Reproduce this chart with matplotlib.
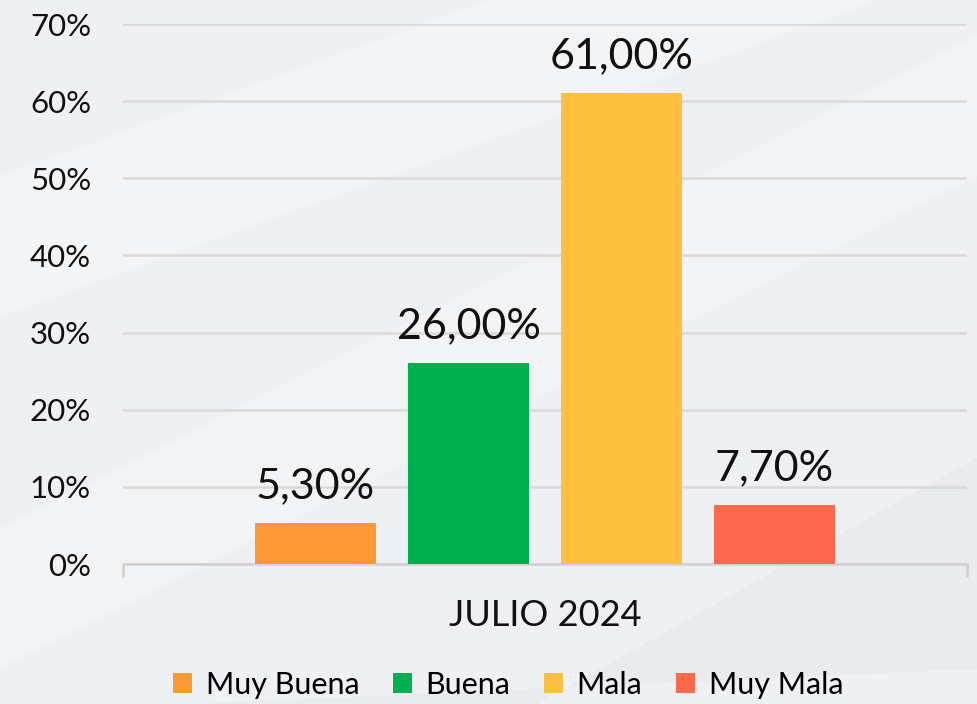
import matplotlib
matplotlib.use("Agg")
import matplotlib.pyplot as plt
from matplotlib.patches import Polygon
from matplotlib.ticker import FuncFormatter, MultipleLocator

category = "JULIO 2024"
series = ["Muy Buena", "Buena", "Mala", "Muy Mala"]
values = [5.30, 26.00, 61.00, 7.70]
colors = ["#FF9933", "#00B050", "#FFC03F", "#FF694B"]

plt.rcParams['font.family'] = ['Lato', 'DejaVu Sans']

fig = plt.figure(figsize=(9.77, 7.04), dpi=100)
fig.patch.set_facecolor("#EFF0F3")

# subtle diagonal background bands
bands = [
    ([(0, 0.55), (0, 0.75), (1, 1.25), (1, 1.05)], "#F3F4F6"),
    ([(0, 0.05), (0, 0.25), (1, 0.95), (1, 0.75)], "#F2F3F5"),
    ([(0.2, 0), (0.55, 0), (1, 0.35), (1, 0.05)], "#E9EBEE"),
]
for pts, c in bands:
    fig.add_artist(Polygon(pts, closed=True, transform=fig.transFigure,
                           facecolor=c, edgecolor="none", zorder=-10))

ax = fig.add_axes([123/977, 1-564/704, (967-123)/977, (564-24)/704])
ax.set_facecolor("none")

pitch = 0.1813
width = 0.1434
n = len(series)
for i, (s, v, c) in enumerate(zip(series, values, colors)):
    x = (i - (n-1)/2) * pitch
    ax.bar(x, v, width=width, color=c, label=s, zorder=3)
    ax.text(x, v + 2.3, f"{v:.2f}%".replace(".", ","), ha="center", va="bottom",
            fontsize=31, color="#111111")

ax.set_xlim(-0.5, 0.5)
ax.set_ylim(0, 70)
ax.yaxis.set_major_locator(MultipleLocator(10))
ax.yaxis.set_major_formatter(FuncFormatter(lambda v, p: f"{int(v)}%"))
ax.grid(axis="y", color="#D9D9D9", linewidth=1.8, zorder=0)
ax.set_axisbelow(True)
for sp in ["top", "right", "left"]:
    ax.spines[sp].set_visible(False)
ax.spines["bottom"].set_color("#D0D0D0")
ax.spines["bottom"].set_linewidth(1.8)
ax.tick_params(axis="y", length=0, pad=23, labelsize=22.5, labelcolor="#111111")
ax.set_xticks([-0.5, 0.5])
ax.set_xticklabels(["", ""])
ax.tick_params(axis="x", length=9, width=1.8, color="#D0D0D0")
ax.text(0, -0.065, category, transform=ax.get_xaxis_transform(), ha="center",
        va="top", fontsize=26, color="#111111")

leg = fig.legend(loc="center", bbox_to_anchor=(508/977, 1-685/704), ncol=4,
                 frameon=False, fontsize=22, handlelength=0.62, handleheight=0.62,
                 handletextpad=0.45, columnspacing=1.1)

fig.savefig("out.png", dpi=100, facecolor=fig.get_facecolor())
